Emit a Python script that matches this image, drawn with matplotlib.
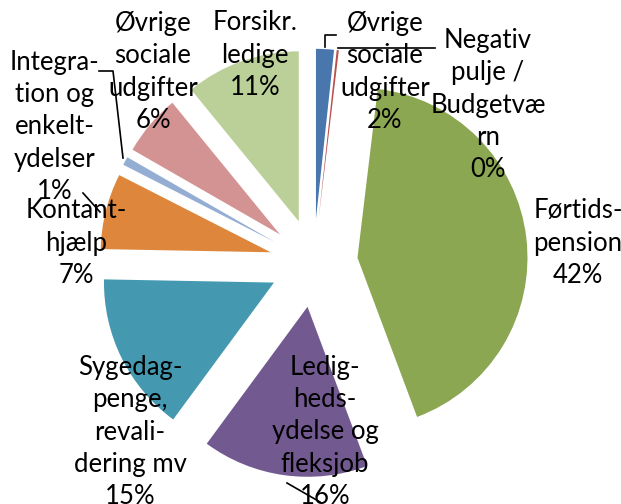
import matplotlib
matplotlib.use('Agg')
import matplotlib.pyplot as plt
from matplotlib.lines import Line2D

# Data (shares in percent, clockwise from 12 o'clock)
names = ['Øvrige\nsociale\nudgifter', 'Negativ\npulje /\nBudgetvæ\nrn', 'Førtids-\npension',
         'Ledig-\nheds-\nydelse og\nfleksjob', 'Sygedag-\npenge,\nrevali-\ndering mv',
         'Kontant-\nhjælp', 'Integra-\ntion og\nenkelt-\nydelser', 'Øvrige\nsociale\nudgifter',
         'Forsikr.\nledige']
shares = [1.7, 0.2, 42.4, 15.8, 15.2, 7.2, 0.8, 5.8, 10.9]
colors = ['#4A76AE', '#B9504D', '#8BA752', '#725A91', '#4499B1',
          '#DE873C', '#93ADD3', '#D49393', '#BBCF98']

# label centres in pixels (from top-left of the image)
label_xy = [(385, 72), (488, 105), (578, 243), (325, 432), (130, 432),
            (76, 243), (55, 127), (153, 72), (255, 55)]
# leader lines in pixels
leaders = [[(325, 47), (325, 35), (336, 35)],
           [(338, 48), (435, 48)],
           [(99, 71), (113, 71), (123, 158)],
           [(287, 483), (320, 502)],
           [(83, 193), (100, 212)]]

W, H = 621, 504
R = 170.0            # pie radius in px
cx, cy = 313.6, 263  # pie centre in px

fig = plt.figure(figsize=(W / 100, H / 100), dpi=100)
ax = fig.add_axes([0, 0, 1, 1])
ax.pie(shares, explode=[0.26] * len(shares), colors=colors, startangle=90,
       counterclock=False, radius=1, wedgeprops=dict(linewidth=0))
ax.set_xlim(-cx / R, (W - cx) / R)
ax.set_ylim(-(H - cy) / R, cy / R)
ax.set_aspect('equal')
ax.axis('off')

for name, s, (x, y) in zip(names, shares, label_xy):
    fig.text(x / W, 1 - y / H, f'{name}\n{s:.0f}%', ha='center', va='center',
             fontsize=18.5, family='Lato', linespacing=1.37, color='black')

for pts in leaders:
    xs = [p[0] / W for p in pts]
    ys = [1 - p[1] / H for p in pts]
    fig.add_artist(Line2D(xs, ys, color='black', linewidth=1.2, transform=fig.transFigure))

fig.savefig('out.png', dpi=100)
